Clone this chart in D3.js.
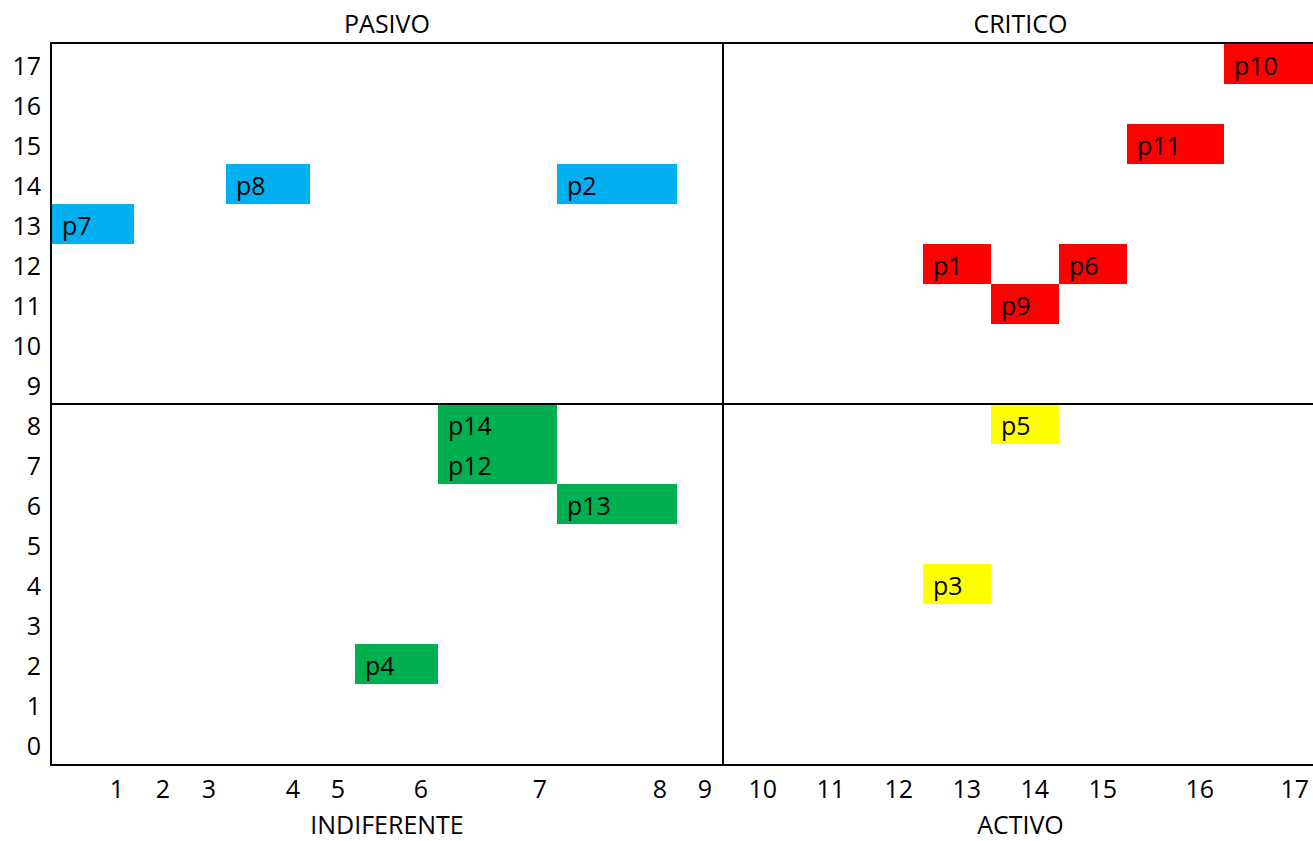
<!DOCTYPE html>
<html>
<head>
<meta charset="utf-8">
<script src="https://cdn.jsdelivr.net/npm/d3@7"></script>
<style>
  html, body { margin: 0; padding: 0; background: #fff; }
  svg { display: block; }
  text { font-family: "Open Sans", sans-serif; font-size: 25px; fill: #000; }
</style>
</head>
<body>
<svg id="chart" width="1313" height="841"></svg>
<script>
// ---- data ----
const names   = ["p1","p2","p3","p4","p5","p6","p7","p8","p9","p10","p11","p12","p13","p14"];
const xValues = [13, 8, 13, 6, 14, 15, 1, 4, 14, 17, 16, 7, 8, 7];
const yValues = [12, 14, 4, 2, 8, 12, 13, 14, 11, 17, 15, 7, 6, 8];
const groups  = ["CRITICO","PASIVO","ACTIVO","INDIFERENTE","ACTIVO","CRITICO","PASIVO","PASIVO","CRITICO","CRITICO","CRITICO","INDIFERENTE","INDIFERENTE","INDIFERENTE"];
const xTicks  = [1,2,3,4,5,6,7,8,9,10,11,12,13,14,15,16,17];
const yTicks  = [0,1,2,3,4,5,6,7,8,9,10,11,12,13,14,15,16,17];
const quadrantTop    = ["PASIVO","CRITICO"];
const quadrantBottom = ["INDIFERENTE","ACTIVO"];
const groupColors = {PASIVO:"#00B0F0", CRITICO:"#FF0000", INDIFERENTE:"#00B050", ACTIVO:"#FFFF00"};

// ---- layout (spreadsheet-like column widths) ----
const leftEdge = 52;
const colWidths = [82,46,46,84,45,83,119,120,45,65,68,68,68,68,68,97,95];
const edges = [leftEdge];
colWidths.forEach(w => edges.push(edges[edges.length-1] + w));

const svg = d3.select("#chart");
const x = d3.scaleLinear().domain(edges.map((_, i) => i + 0.5)).range(edges);
const y = d3.scaleLinear().domain([-0.5, 17.5]).range([764, 44]);

const points = names.map((n, i) => ({name: n, x: xValues[i], y: yValues[i], g: groups[i]}));

// cells
const cells = svg.append("g");
cells.selectAll("rect").data(points).join("rect")
  .attr("x", d => x(d.x - 0.5))
  .attr("y", d => y(d.y + 0.5))
  .attr("width", d => x(d.x + 0.5) - x(d.x - 0.5))
  .attr("height", d => y(d.y - 0.5) - y(d.y + 0.5))
  .attr("fill", d => groupColors[d.g]);
cells.selectAll("text").data(points).join("text")
  .attr("x", d => x(d.x - 0.5) + 10)
  .attr("y", d => y(d.y - 0.5) - 9)
  .text(d => d.name);

// frame lines
const lines = svg.append("g").attr("stroke", "#000").attr("stroke-width", 2);
const xL = x(0.5) - 1, xR = 1313;
const yT = y(17.5) - 1, yB = y(-0.5) + 1;
lines.append("line").attr("x1", xL - 1).attr("x2", xR).attr("y1", yT).attr("y2", yT);
lines.append("line").attr("x1", xL - 1).attr("x2", xR).attr("y1", yB).attr("y2", yB);
lines.append("line").attr("x1", xL - 1).attr("x2", xR).attr("y1", y(8.5)).attr("y2", y(8.5));
lines.append("line").attr("x1", xL).attr("x2", xL).attr("y1", yT - 1).attr("y2", yB + 1);
lines.append("line").attr("x1", x(9.5) + 1).attr("x2", x(9.5) + 1).attr("y1", yT - 1).attr("y2", yB + 1);

// y axis labels
svg.append("g").selectAll("text").data(yTicks).join("text")
  .attr("x", leftEdge - 11)
  .attr("y", d => y(d - 0.5) - 9)
  .attr("text-anchor", "end")
  .text(d => d);

// x axis labels
svg.append("g").selectAll("text").data(xTicks).join("text")
  .attr("x", d => x(d + 0.5) - 10)
  .attr("y", y(-0.5) + 34)
  .attr("text-anchor", "end")
  .text(d => d);

// quadrant titles
const centers = [(x(0.5) + x(9.5)) / 2, (x(9.5) + x(17.5)) / 2];
svg.append("g").selectAll("text").data(quadrantTop).join("text")
  .attr("x", (d, i) => centers[i])
  .attr("y", y(17.5) - 11)
  .attr("text-anchor", "middle")
  .text(d => d);
svg.append("g").selectAll("text").data(quadrantBottom).join("text")
  .attr("x", (d, i) => centers[i])
  .attr("y", y(-0.5) + 70)
  .attr("text-anchor", "middle")
  .text(d => d);
</script>
</body>
</html>
